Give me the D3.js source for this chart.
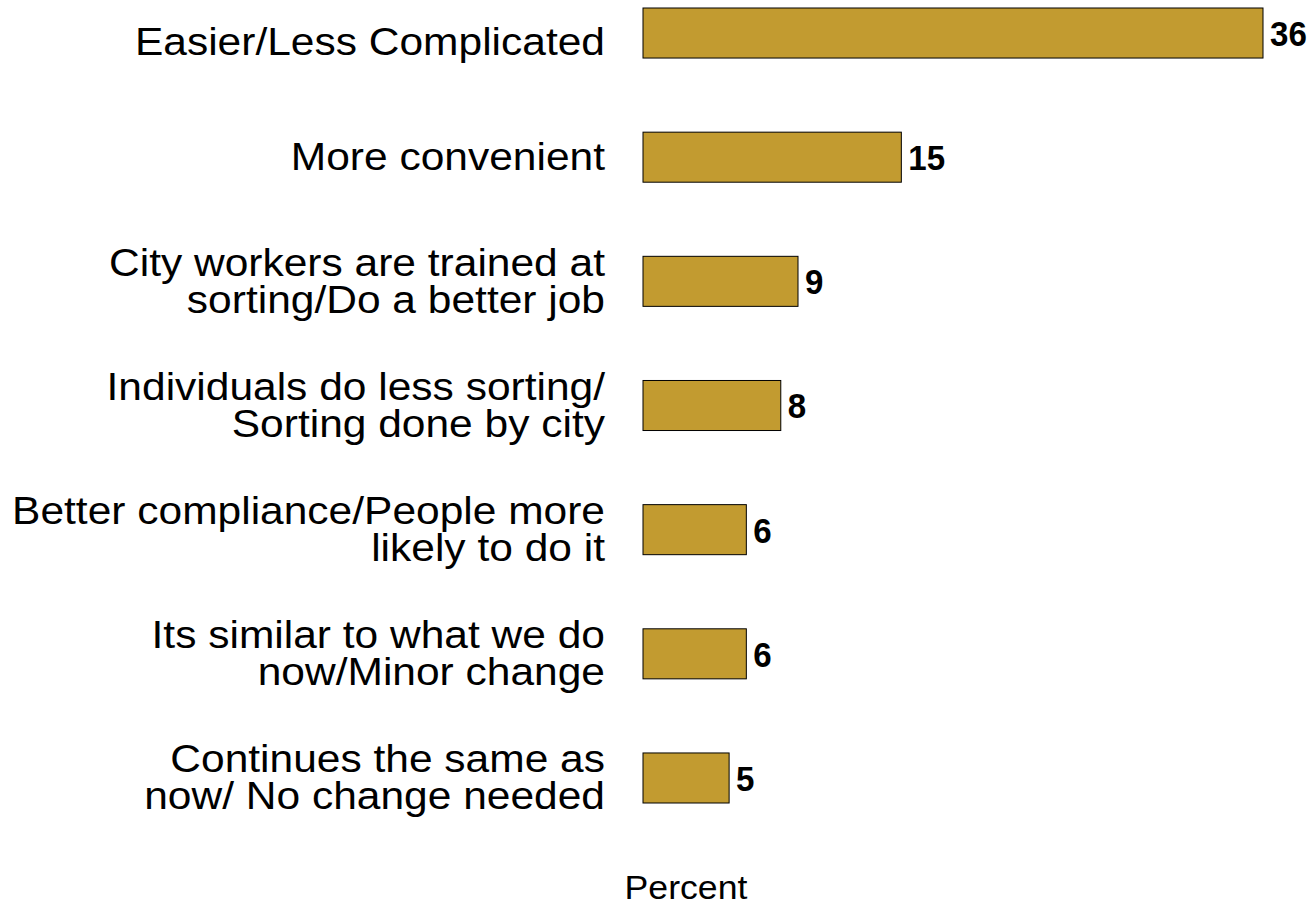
<!DOCTYPE html>
<html><head><meta charset="utf-8">
<script src="https://cdn.jsdelivr.net/npm/d3@7"></script>
<style>body{margin:0;background:#fff}svg{display:block}</style>
</head><body>
<svg id="c" width="1312" height="902"></svg>
<script>
const categories = [
  ["Easier/Less Complicated"],
  ["More convenient"],
  ["City workers are trained at", "sorting/Do a better job"],
  ["Individuals do less sorting/", "Sorting done by city"],
  ["Better compliance/People more", "likely to do it"],
  ["Its similar to what we do", "now/Minor change"],
  ["Continues the same as", "now/ No change needed"]
];
const values = [36, 15, 9, 8, 6, 6, 5];
const axisTitle = "Percent";

const svg = d3.select("#c");
const x = d3.scaleLinear().domain([0, 36]).range([643, 1263]);
const y = d3.scaleBand().domain(d3.range(values.length)).range([8, 803]).paddingInner(0.597).paddingOuter(0);

const g = svg.append("g");
g.selectAll("rect").data(values).join("rect")
  .attr("x", x(0)).attr("y", (d,i)=>y(i))
  .attr("width", d=>x(d)-x(0)).attr("height", y.bandwidth())
  .attr("fill", "#C29B30").attr("stroke", "#000").attr("stroke-width", 1);

g.selectAll("text.v").data(values).join("text").attr("class","v")
  .attr("transform", (d,i)=>`translate(${x(d)+7},${y(i)+y.bandwidth()/2}) scale(0.92,1)`)
  .attr("dy", "0.36em")
  .attr("font-family", "'Liberation Sans', Arial, sans-serif")
  .attr("font-weight", "bold").attr("font-size", 36)
  .text(d=>d);

const fs = 39, lh = 37, sx = 1.09;
categories.forEach((lines, i) => {
  const cy = y(i) + y.bandwidth()/2 + (i === 0 ? 8 : -1);
  const t = g.append("text")
    .attr("transform", `translate(605,0) scale(${sx},1)`)
    .attr("text-anchor", "end")
    .attr("font-family", "'Liberation Sans', Arial, sans-serif")
    .attr("font-size", fs).attr("fill", "#000");
  lines.forEach((l, j) => {
    t.append("tspan").attr("x", 0)
      .attr("y", cy + 0.358*fs + (j - (lines.length-1)/2)*lh)
      .text(l);
  });
});

svg.append("text")
  .attr("transform", "translate(686,899) scale(1.08,1)")
  .attr("text-anchor","middle")
  .attr("font-family", "'Liberation Sans', Arial, sans-serif")
  .attr("font-size", 33).text(axisTitle);
</script>
</body></html>
